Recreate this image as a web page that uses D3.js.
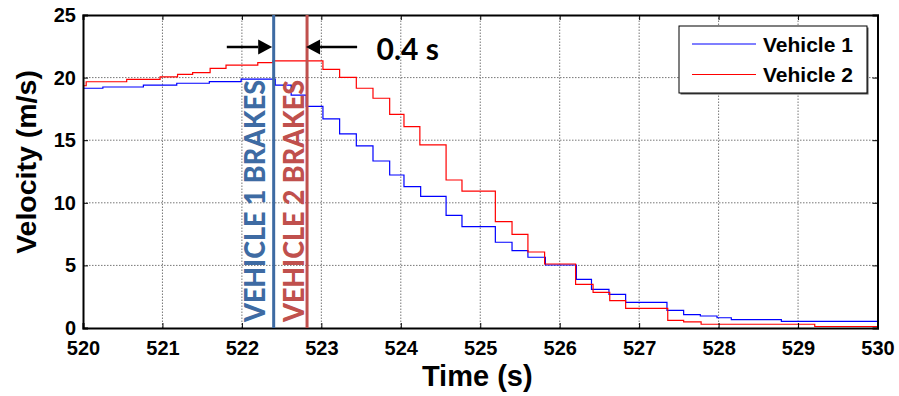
<!DOCTYPE html>
<html><head><meta charset="utf-8">
<script src="https://cdn.jsdelivr.net/npm/d3@7"></script>
<style>body{margin:0;background:#fff}</style>
</head><body><svg id="chart" width="899" height="396"></svg>
<script>
const xTicks = [520,521,522,523,524,525,526,527,528,529,530];
const yTicks = [0,5,10,15,20,25];
const seriesNames = ["Vehicle 1","Vehicle 2"];
const blueTimes = [520,520.25,520.76,521.18,521.59,521.99,522.42,522.62,522.81,523.02,523.23,523.44,523.65,523.86,524.04,524.25,524.57,524.77,525.19,525.40,525.60,525.82,526.21,526.40,526.62,526.83,527.35,527.56,527.77,527.98,528.16,528.79,530];
const blueVals  = [19.15,19.25,19.4,19.55,19.68,19.88,19.4,18.6,17.7,16.7,15.5,14.54,13.34,12.22,11.29,10.52,9.0,8.09,6.85,6.18,5.65,5.03,3.89,3.09,2.69,2.05,1.41,1.07,0.96,0.82,0.67,0.53,0.53];
const redTimes = [520,520.04,520.55,520.97,521.19,521.38,521.60,521.80,522.20,522.39,523.02,523.23,523.44,523.65,523.86,524.04,524.24,524.57,524.77,525.19,525.40,525.60,525.81,526.20,526.42,526.63,526.83,527.36,527.56,527.78,529.21,530];
const redVals  = [19.35,19.67,19.86,20.05,20.26,20.4,20.74,21.0,21.2,21.33,20.66,20.02,19.15,18.35,17.07,16.08,14.62,11.82,10.94,8.49,7.48,6.07,5.11,3.49,2.85,2.18,1.57,0.61,0.49,0.3,0.12,0.12];
const brakeTimes = [522.4, 522.82];
const brakeLabels = ["VEHICLE 1 BRAKES","VEHICLE 2 BRAKES"];
const arrowTails = [521.81, 523.45];
const gapLabel = "0.4 s";

const W = 899, H = 396;
const m = {left:83, right:21.5, top:15, bottom:68};
const svg = d3.select("#chart");
const x = d3.scaleLinear().domain([520,530]).range([m.left, W - m.right]);
const y = d3.scaleLinear().domain([0,25]).range([H - m.bottom, m.top]);
const axisFont = "'Liberation Sans', Arial, sans-serif";
const annFont = "Lato, 'Open Sans', sans-serif";
const blueAnn = "#3e6ba3", redAnn = "#c0504d";

// grid
const grid = svg.append("g");
grid.selectAll("line.gx").data(xTicks.slice(1,-1)).join("line")
  .attr("x1", d=>x(d)).attr("x2", d=>x(d)).attr("y1", y(0)).attr("y2", y(25))
  .attr("stroke","#777").attr("stroke-width",1).attr("stroke-dasharray","1.5,1.5");
grid.selectAll("line.gy").data(yTicks.slice(1,-1)).join("line")
  .attr("y1", d=>y(d)).attr("y2", d=>y(d)).attr("x1", x(520)).attr("x2", x(530))
  .attr("stroke","#777").attr("stroke-width",1).attr("stroke-dasharray","1.5,1.5");

// series
const line = d3.line().x(d=>x(d[0])).y(d=>y(d[1])).curve(d3.curveStepAfter);
const blue = blueTimes.map((t,i)=>[t, blueVals[i]]);
const red = redTimes.map((t,i)=>[t, redVals[i]]);
svg.append("path").datum(blue).attr("d", line).attr("fill","none").attr("stroke","#0000ff").attr("stroke-width",1.2);
svg.append("path").datum(red).attr("d", line).attr("fill","none").attr("stroke","#ff0000").attr("stroke-width",1.2);

// axes (ticks inside)
const tk = 5;
const gx = svg.append("g").attr("transform",`translate(0,${y(0)})`)
  .call(d3.axisBottom(x).tickValues(xTicks).tickSize(-tk).tickPadding(13).tickFormat(d3.format("d")));
const gxt = svg.append("g").attr("transform",`translate(0,${y(25)})`)
  .call(d3.axisTop(x).tickValues(xTicks).tickSize(-tk).tickFormat(""));
const gy = svg.append("g").attr("transform",`translate(${x(520)},0)`)
  .call(d3.axisLeft(y).tickValues(yTicks).tickSize(-tk).tickPadding(7));
const gyr = svg.append("g").attr("transform",`translate(${x(530)},0)`)
  .call(d3.axisRight(y).tickValues(yTicks).tickSize(-tk).tickFormat(""));
[gx,gxt,gy,gyr].forEach(g=>{
  g.select(".domain").attr("stroke","#000").attr("stroke-width",2);
  g.selectAll(".tick line").attr("stroke","#000").attr("stroke-width",1);
  g.selectAll("text").attr("fill","#000").attr("font-family",axisFont).attr("font-weight","bold").attr("font-size",20);
});

// brake lines and labels
const brakeColors = [blueAnn, redAnn];
const labelOffsets = [-8.5, -3.5];
brakeTimes.forEach((t,i)=>{
  svg.append("line").attr("x1",x(t)).attr("x2",x(t)).attr("y1",y(25)).attr("y2",y(0))
    .attr("stroke",brakeColors[i]).attr("stroke-width",3);
  svg.append("text").attr("transform",`translate(${x(t)+labelOffsets[i]},${y(0)-6}) rotate(-90)`)
    .attr("font-family",annFont).attr("font-weight","900").attr("font-size",29)
    .attr("fill",brakeColors[i]).attr("textLength",242).attr("lengthAdjust","spacingAndGlyphs")
    .text(brakeLabels[i]);
});

// arrows
const ay = 47;
function arrow(tail, tip){
  const dir = Math.sign(tip - tail);
  const hl = 14, hw = 7.5;
  svg.append("line").attr("x1",tail).attr("x2",tip - dir*hl).attr("y1",ay).attr("y2",ay)
    .attr("stroke","#000").attr("stroke-width",2.5);
  svg.append("path").attr("d",`M${tip},${ay} L${tip-dir*hl},${ay-hw} L${tip-dir*hl},${ay+hw} Z`).attr("fill","#000");
}
arrow(x(arrowTails[0]), x(brakeTimes[0]) - 1.5);
arrow(x(arrowTails[1]), x(brakeTimes[1]) - 1);
svg.append("text").attr("x", 376.5).attr("y", 60).attr("font-family",annFont).attr("font-weight","bold")
  .attr("font-size",30).attr("fill","#000").text(gapLabel);

// axis titles
svg.append("text").attr("x", (x(520)+x(530))/2 - 3).attr("y", 386).attr("text-anchor","middle")
  .attr("font-family",axisFont).attr("font-weight","bold").attr("font-size",29).text("Time (s)");
svg.append("text").attr("transform",`translate(36,162) rotate(-90)`).attr("text-anchor","middle")
  .attr("font-family",axisFont).attr("font-weight","bold").attr("font-size",28.5).text("Velocity (m/s)");

// legend
const lg = svg.append("g");
const lx = 679, ly = 26, lw = 188, lh = 67;
lg.append("rect").attr("x",lx+1.5).attr("y",ly+1.5).attr("width",lw).attr("height",lh).attr("fill","#555");
lg.append("rect").attr("x",lx).attr("y",ly).attr("width",lw).attr("height",lh).attr("fill","#fff").attr("stroke","#000").attr("stroke-width",1);
const lcolors = ["#0000ff","#ff0000"];
seriesNames.forEach((n,i)=>{
  const yy = ly + 18 + i*30.5;
  lg.append("line").attr("x1",lx+13).attr("x2",lx+77).attr("y1",yy).attr("y2",yy).attr("stroke",lcolors[i]).attr("stroke-width",1.2);
  lg.append("text").attr("x",lx+84).attr("y",yy+7.5).attr("font-family",axisFont).attr("font-weight","bold")
    .attr("font-size",21).attr("fill","#000").text(n);
});
</script></body></html>
